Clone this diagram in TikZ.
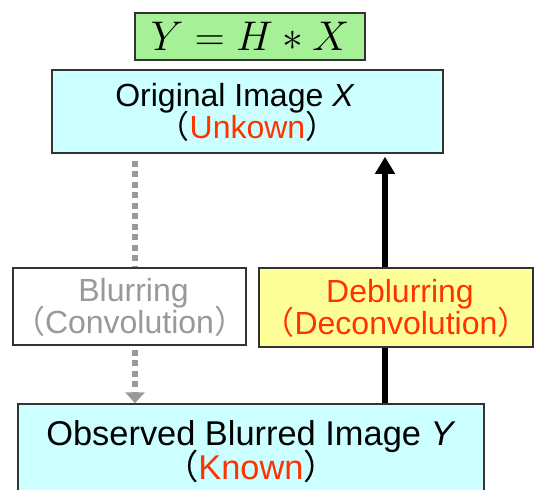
\documentclass[tikz,border=0pt]{standalone}
\usepackage{fontspec}
\setmainfont{Liberation Sans}
\newfontfamily\cjk{Noto Sans CJK JP}
\usepackage{xcolor}
\usetikzlibrary{positioning,calc,arrows.meta,backgrounds}

\definecolor{boxcyan}{HTML}{CCFFFF}
\definecolor{boxgreen}{HTML}{A6F098}
\definecolor{boxyellow}{HTML}{FFFF99}
\definecolor{txtred}{HTML}{FF3300}
\definecolor{txtgray}{HTML}{999999}
\definecolor{edgegray}{HTML}{333333}

\newcommand{\openp}{\smash{\cjk （}}
\newcommand{\closep}{\smash{\cjk ）}}

\tikzset{
    stagebox/.style={draw=edgegray, line width=0.75pt, align=center, inner sep=0pt,
        font=\fontsize{16}{16}\selectfont},
}

\begin{document}
\begin{tikzpicture}[x=0.5pt, y=-0.5pt]
    \useasboundingbox (0,0) rectangle (541,489);

    \node[stagebox, fill=boxgreen, minimum width=115pt, minimum height=23.5pt,
        font=\fontsize{22}{24}\selectfont] (eq) at (250,36.5) {$Y = H * X$};
    \node[stagebox, fill=boxcyan, minimum width=195.5pt, minimum height=41.5pt] (orig) at (247.5,111.5)
        {Original Image \textit{X}\hspace*{12.5pt}\\ \openp\textcolor{txtred}{Unkown}\closep};
    \node[stagebox, fill=white, text=txtgray, minimum width=111.5pt, minimum height=38.5pt] (blur) at (129.5,306.5)
        {Blurring\hspace*{-4pt}\\ \openp Convolution\closep};
    \node[stagebox, fill=boxyellow, text=txtred, minimum width=137pt, minimum height=39.5pt] (deblur) at (396,307.5)
        {Deblurring\hspace*{-4pt}\\ \openp Deconvolution\closep};
    \node[stagebox, fill=boxcyan, minimum width=233pt, minimum height=46pt,
        font=\fontsize{17.2}{17.2}\selectfont] (obs) at (251,450)
        {Observed Blurred Image \textit{Y}\\ \openp\textcolor{txtred}{Known}\closep};

    \coordinate (blurx) at (135,0);
    \coordinate (deblurx) at (385,0);

    \begin{scope}[on background layer]
        % blurring: X -> Y
        \draw[txtgray, line width=3pt, dash pattern=on 3pt off 2.25pt, shorten <=3.5pt,
            -{Triangle[length=5.5pt, width=9.5pt]}]
            (orig.south -| blurx) -- (obs.north -| blurx);
        % deblurring: Y -> X
        \draw[black, line width=3pt, shorten >=1.5pt,
            -{Triangle[length=8.5pt, width=9.5pt]}]
            (obs.north -| deblurx) -- (orig.south -| deblurx);
    \end{scope}
\end{tikzpicture}
\end{document}
